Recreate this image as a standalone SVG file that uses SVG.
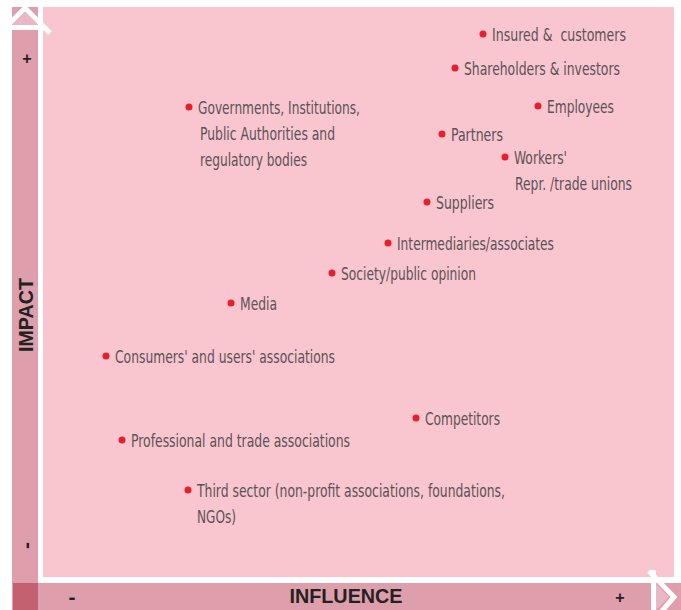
<svg xmlns="http://www.w3.org/2000/svg" width="681" height="610" viewBox="0 0 681 610">
<style>
.lbl{font-family:"DejaVu Sans Condensed","Liberation Sans Narrow","Liberation Sans",sans-serif;font-stretch:condensed;font-size:18px;fill:#5a5358}
.dot{fill:#e6202b}
.ax{font-family:"Liberation Sans",Arial,sans-serif;font-weight:bold;fill:#222222}
</style>
<rect x="0" y="0" width="681" height="610" fill="#ffffff"/>
<g id="background">
<rect x="43" y="7" width="631" height="570" fill="#f9c5cf"/>
<rect x="12" y="7" width="26" height="576" fill="#de9eab"/>
<rect x="12" y="583" width="669" height="27" fill="#de9eab"/>
<rect x="13" y="583" width="25" height="27" fill="#c4606f"/>
</g>
<g id="arrow-impact">
<polygon points="12,25 25,12 38,25" fill="#e9b7c5"/>
<polyline points="6,27 25,8 50,33" fill="none" stroke="#ffffff" stroke-width="5"/>
<rect x="12" y="25" width="26" height="5" fill="#ffffff"/>
</g>
<g id="arrow-influence">
<polygon points="656,584 669,597 656,610" fill="#e9b7c5"/>
<polyline points="649,571 674,597 661,612" fill="none" stroke="#ffffff" stroke-width="5"/>
<rect x="651" y="570" width="5" height="40" fill="#ffffff"/>
</g>
<g id="axis-labels">
<text class="ax" x="346" y="603" font-size="20" text-anchor="middle" textLength="113" lengthAdjust="spacingAndGlyphs">INFLUENCE</text>
<text class="ax" transform="translate(33,315) rotate(-90)" font-size="20" text-anchor="middle" textLength="74" lengthAdjust="spacingAndGlyphs">IMPACT</text>
<text class="ax" x="27" y="64" font-size="16" text-anchor="middle">+</text>
<text class="ax" x="620" y="603" font-size="16" text-anchor="middle">+</text>
<text class="ax" x="72" y="603.5" font-size="21" text-anchor="middle">-</text>
<text class="ax" transform="translate(33,545.5) rotate(-90)" font-size="21" text-anchor="middle">-</text>
</g>
<g id="insured"><circle class="dot" cx="483" cy="34" r="3.5"/><text class="lbl" x="492" y="41" textLength="134" lengthAdjust="spacingAndGlyphs" xml:space="preserve">Insured &amp;  customers</text></g>
<g id="shareholders"><circle class="dot" cx="455" cy="68" r="3.5"/><text class="lbl" x="464" y="75" textLength="156" lengthAdjust="spacingAndGlyphs">Shareholders &amp; investors</text></g>
<g id="employees"><circle class="dot" cx="538" cy="106" r="3.5"/><text class="lbl" x="547" y="113" textLength="67" lengthAdjust="spacingAndGlyphs">Employees</text></g>
<g id="governments"><circle class="dot" cx="189" cy="107" r="3.5"/>
<text class="lbl" x="198" y="114" textLength="162" lengthAdjust="spacingAndGlyphs">Governments, Institutions,</text>
<text class="lbl" x="200" y="140" textLength="135" lengthAdjust="spacingAndGlyphs">Public Authorities and</text>
<text class="lbl" x="200" y="166" textLength="107" lengthAdjust="spacingAndGlyphs">regulatory bodies</text></g>
<g id="partners"><circle class="dot" cx="442" cy="134" r="3.5"/><text class="lbl" x="451" y="141" textLength="52" lengthAdjust="spacingAndGlyphs">Partners</text></g>
<g id="workers"><circle class="dot" cx="505" cy="157" r="3.5"/>
<text class="lbl" x="514" y="164" textLength="53" lengthAdjust="spacingAndGlyphs">Workers'</text>
<text class="lbl" x="515" y="190" textLength="117" lengthAdjust="spacingAndGlyphs">Repr. /trade unions</text></g>
<g id="suppliers"><circle class="dot" cx="427" cy="202" r="3.5"/><text class="lbl" x="436" y="209" textLength="58" lengthAdjust="spacingAndGlyphs">Suppliers</text></g>
<g id="intermediaries"><circle class="dot" cx="388" cy="243" r="3.5"/><text class="lbl" x="397" y="250" textLength="157" lengthAdjust="spacingAndGlyphs">Intermediaries/associates</text></g>
<g id="society"><circle class="dot" cx="332" cy="273" r="3.5"/><text class="lbl" x="341" y="280" textLength="135" lengthAdjust="spacingAndGlyphs">Society/public opinion</text></g>
<g id="media"><circle class="dot" cx="231" cy="303" r="3.5"/><text class="lbl" x="240" y="310" textLength="37" lengthAdjust="spacingAndGlyphs">Media</text></g>
<g id="consumers"><circle class="dot" cx="106" cy="356" r="3.5"/><text class="lbl" x="115" y="363" textLength="220" lengthAdjust="spacingAndGlyphs">Consumers' and users' associations</text></g>
<g id="competitors"><circle class="dot" cx="416" cy="418" r="3.5"/><text class="lbl" x="425" y="425" textLength="75" lengthAdjust="spacingAndGlyphs">Competitors</text></g>
<g id="professional"><circle class="dot" cx="122" cy="440" r="3.5"/><text class="lbl" x="131" y="447" textLength="219" lengthAdjust="spacingAndGlyphs">Professional and trade associations</text></g>
<g id="third-sector"><circle class="dot" cx="188" cy="490" r="3.5"/>
<text class="lbl" x="197" y="497" textLength="308" lengthAdjust="spacingAndGlyphs">Third sector (non-profit associations, foundations,</text>
<text class="lbl" x="197" y="523" textLength="39" lengthAdjust="spacingAndGlyphs">NGOs)</text></g>
<g id="connectors"></g>
</svg>
